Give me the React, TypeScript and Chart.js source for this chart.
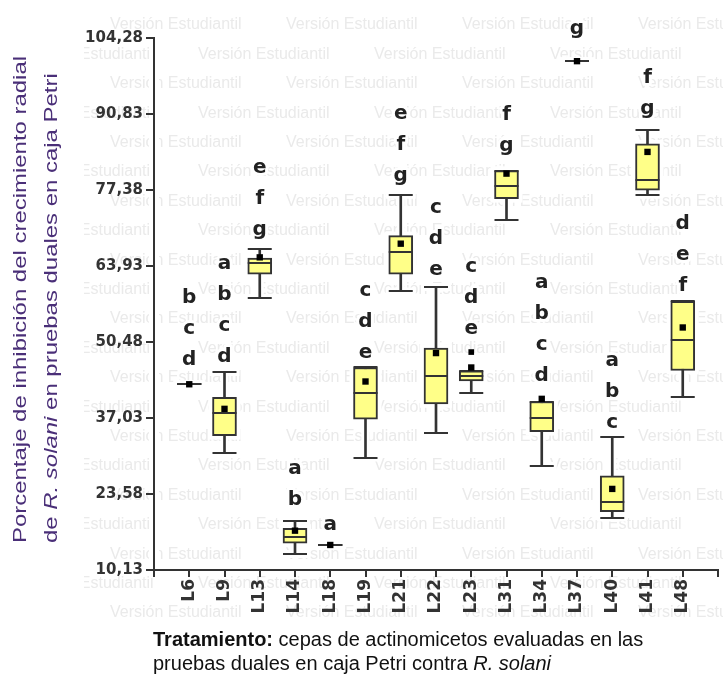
import React, { useEffect, useRef } from 'react';
import { Chart, registerables } from 'chart.js';

Chart.register(...registerables);

// ---------- data ----------
const categories = ['L6', 'L9', 'L13', 'L14', 'L18', 'L19', 'L21', 'L22', 'L23', 'L31', 'L34', 'L37', 'L40', 'L41', 'L48'];
const whiskerLow = [43.0, 30.8, 58.26, 12.96, 14.56, 30.03, 59.43, 34.35, 41.43, 72.13, 28.55, 100.18, 19.4, 76.56, 40.83];
const quartile1 = [43.0, 33.92, 62.5, 14.86, 14.56, 36.83, 62.5, 39.54, 43.61, 75.85, 34.63, 100.18, 20.46, 77.33, 45.44];
const medians = [43.0, 38.0, 64.46, 15.92, 14.56, 41.43, 66.41, 44.5, 44.5, 78.03, 37.11, 100.18, 22.23, 79.22, 50.75];
const quartile3 = [43.0, 40.7, 65.35, 17.52, 14.56, 45.97, 69.3, 49.4, 45.38, 80.81, 39.95, 100.18, 26.78, 85.54, 57.66];
const whiskerHigh = [43.0, 45.15, 66.94, 18.87, 14.56, 45.97, 76.56, 60.21, 45.38, 80.81, 39.95, 100.18, 33.74, 87.96, 57.66];
const means = [43.0, 38.65, 65.46, 17.09, 14.56, 43.49, 67.88, 48.52, 45.97, 80.28, 40.42, 100.18, 24.48, 84.12, 53.05];
const outlierCategories = ['L23'];
const outlierValues = [48.7];
const letterGroups = ['bcd', 'abcd', 'efg', 'ab', 'a', 'cde', 'efg', 'cde', 'cde', 'fg', 'abcd', 'g', 'abc', 'fg', 'def'];
const letterBaseValues = [47.4, 47.9, 70.3, 22.6, 18.1, 48.6, 79.9, 63.3, 52.8, 85.2, 44.5, 105.9, 36.2, 91.8, 60.4];
const yTickValues = [10.13, 23.58, 37.03, 50.48, 63.93, 77.38, 90.83, 104.28];
const yTitleLine1 = 'Porcentaje de inhibición del crecimiento radial';
const yTitleLine2 = [['de ', 'normal'], ['R. solani', 'italic'], [' en pruebas duales en caja Petri', 'normal']];
const xTitleLine1 = [['Tratamiento:', 'bold'], [' cepas de actinomicetos evaluadas en las', 'normal']];
const xTitleLine2 = [['pruebas duales en caja Petri contra ', 'normal'], ['R. solani', 'italic']];
const watermarkText = 'Versión Estudiantil';

// ---------- styles ----------
const W = 723;
const H = 685;
const BOX_W = 24;
const INK = '#333333';
const BOX_FILL = '#ffff88';
const TITLE_COLOR = '#4a2f78';

const xIndex = (cat: string) => categories.indexOf(cat) + 1;

const backgroundPlugin = {
  id: 'bgWatermark',
  beforeDraw(chart: any) {
    const ctx = chart.ctx as CanvasRenderingContext2D;
    const area = chart.chartArea;
    ctx.save();
    ctx.fillStyle = '#ffffff';
    ctx.fillRect(0, 0, W, H);
    ctx.beginPath();
    ctx.rect(84, 8, W - 84, 615);
    ctx.clip();
    ctx.font = '16px "Liberation Sans"';
    ctx.fillStyle = '#eaeaea';
    ctx.textBaseline = 'middle';
    ctx.textAlign = 'left';
    for (let r = 0; r < 21; r++) {
      const y = 25 + r * 29.4;
      const start = r % 2 === 0 ? 110 : 198;
      for (let x = start - 176 * 2; x < W; x += 176) ctx.fillText(watermarkText, x, y);
    }
    ctx.restore();
    // white halo along the axes
    ctx.save();
    ctx.strokeStyle = '#ffffff';
    ctx.lineWidth = 10;
    ctx.beginPath();
    ctx.moveTo(area.left, area.top - 4);
    ctx.lineTo(area.left, area.bottom + 8);
    ctx.moveTo(area.left - 10, area.bottom);
    ctx.lineTo(area.right + 3, area.bottom);
    ctx.stroke();
    ctx.restore();
  },
};

const boxPlugin = {
  id: 'boxExtras',
  beforeDatasetsDraw(chart: any) {
    const ctx = chart.ctx as CanvasRenderingContext2D;
    const xs = chart.scales.x;
    const ys = chart.scales.y;
    ctx.save();
    ctx.strokeStyle = '#ffffff';
    ctx.fillStyle = '#ffffff';
    ctx.lineWidth = 8;
    categories.forEach((c, i) => {
      const x = xs.getPixelForValue(i + 1);
      const lo = ys.getPixelForValue(whiskerLow[i]);
      const hi = ys.getPixelForValue(whiskerHigh[i]);
      ctx.beginPath();
      ctx.moveTo(x, lo);
      ctx.lineTo(x, hi);
      ctx.moveTo(x - BOX_W / 2 - 3, lo);
      ctx.lineTo(x + BOX_W / 2 + 3, lo);
      ctx.moveTo(x - BOX_W / 2 - 3, hi);
      ctx.lineTo(x + BOX_W / 2 + 3, hi);
      ctx.stroke();
      const t = ys.getPixelForValue(quartile3[i]);
      const b = ys.getPixelForValue(quartile1[i]);
      ctx.fillRect(x - BOX_W / 2 - 4, t - 4, BOX_W + 8, b - t + 8);
    });
    ctx.restore();
  },
  afterDatasetDraw(chart: any, args: any) {
    if (args.index !== 1) return;
    const ctx = chart.ctx as CanvasRenderingContext2D;
    const xs = chart.scales.x;
    const ys = chart.scales.y;
    ctx.save();
    ctx.strokeStyle = INK;
    ctx.lineWidth = 2;
    categories.forEach((c, i) => {
      const x = xs.getPixelForValue(i + 1);
      const vals = [whiskerLow[i], whiskerHigh[i], medians[i]];
      vals.forEach((v) => {
        const y = Math.round(ys.getPixelForValue(v));
        ctx.beginPath();
        ctx.moveTo(x - BOX_W / 2, y);
        ctx.lineTo(x + BOX_W / 2, y);
        ctx.stroke();
      });
    });
    ctx.restore();
  },
  afterDraw(chart: any) {
    const ctx = chart.ctx as CanvasRenderingContext2D;
    const xs = chart.scales.x;
    const ys = chart.scales.y;
    // significance letters
    ctx.save();
    ctx.font = 'bold 20px "DejaVu Sans"';
    ctx.textAlign = 'center';
    ctx.textBaseline = 'middle';
    ctx.lineJoin = 'round';
    categories.forEach((c, i) => {
      const x = xs.getPixelForValue(i + 1);
      const base = ys.getPixelForValue(letterBaseValues[i]);
      const chars = letterGroups[i].split('');
      chars.forEach((ch, j) => {
        const y = base - (chars.length - 1 - j) * 31;
        ctx.strokeStyle = '#ffffff';
        ctx.lineWidth = 6;
        ctx.strokeText(ch, x, y);
        ctx.fillStyle = '#222222';
        ctx.fillText(ch, x, y);
      });
    });
    ctx.restore();

    const drawSegments = (segs: string[][], size: number, family: string, color: string) => {
      let x = 0;
      segs.forEach(([txt, style]) => {
        const f = style === 'bold' ? `bold ${size}px ${family}` : style === 'italic' ? `italic ${size}px ${family}` : `${size}px ${family}`;
        ctx.font = f;
        ctx.fillStyle = color;
        ctx.fillText(txt, x, 0);
        x += ctx.measureText(txt).width;
      });
    };
    // y-axis title (two rotated lines)
    ctx.save();
    ctx.textAlign = 'left';
    ctx.textBaseline = 'alphabetic';
    ctx.translate(26, 543);
    ctx.rotate(-Math.PI / 2);
    ctx.scale(1.33, 1);
    drawSegments([[yTitleLine1, 'normal']], 18, '"Liberation Sans"', TITLE_COLOR);
    ctx.restore();
    ctx.save();
    ctx.textAlign = 'left';
    ctx.textBaseline = 'alphabetic';
    ctx.translate(57, 543);
    ctx.rotate(-Math.PI / 2);
    ctx.scale(1.33, 1);
    drawSegments(yTitleLine2, 18, '"Liberation Sans"', TITLE_COLOR);
    ctx.restore();

    // x-axis title (two lines below)
    ctx.save();
    ctx.textAlign = 'left';
    ctx.textBaseline = 'alphabetic';
    ctx.translate(153, 646);
    drawSegments(xTitleLine1, 20, '"Liberation Sans"', '#111111');
    ctx.restore();
    ctx.save();
    ctx.textAlign = 'left';
    ctx.textBaseline = 'alphabetic';
    ctx.translate(153, 670);
    drawSegments(xTitleLine2, 20, '"Liberation Sans"', '#111111');
    ctx.restore();
  },
};

export default function App() {
  const ref = useRef<HTMLCanvasElement>(null);
  useEffect(() => {
    if (!ref.current) return;
    const xTicks = Array.from({ length: categories.length + 2 }, (_, k) => k);
    const chart = new Chart(ref.current, {
      type: 'bar',
      data: {
        datasets: [
          {
            type: 'bar',
            label: 'whiskers',
            data: categories.map((c, i) => ({ x: i + 1, y: [whiskerLow[i], whiskerHigh[i]] })) as any,
            backgroundColor: INK,
            borderWidth: 0,
            barThickness: 2,
            grouped: false,
            order: 3,
          } as any,
          {
            type: 'bar',
            label: 'boxes',
            data: categories.map((c, i) => ({ x: i + 1, y: [quartile1[i], quartile3[i]] })) as any,
            backgroundColor: BOX_FILL,
            borderColor: INK,
            borderWidth: 2,
            borderSkipped: false,
            barThickness: BOX_W,
            grouped: false,
            order: 2,
          } as any,
          {
            type: 'scatter',
            label: 'means',
            data: categories.map((c, i) => ({ x: i + 1, y: means[i] })),
            pointStyle: 'rect',
            pointRadius: 4.5,
            backgroundColor: '#000000',
            borderWidth: 0,
            order: 1,
          } as any,
          {
            type: 'scatter',
            label: 'outliers',
            data: outlierCategories.map((c, i) => ({ x: xIndex(c), y: outlierValues[i] })),
            pointStyle: 'rect',
            pointRadius: 4,
            backgroundColor: '#000000',
            borderWidth: 0,
            order: 0,
          } as any,
        ],
      },
      options: {
        responsive: false,
        devicePixelRatio: 1,
        animation: false,
        layout: { padding: { left: 84, right: 5, top: 38, bottom: 0 } },
        plugins: { legend: { display: false }, tooltip: { enabled: false }, title: { display: false } },
        scales: {
          x: {
            type: 'linear',
            min: 0,
            max: categories.length + 1,
            offset: false,
            afterBuildTicks: (scale: any) => {
              scale.ticks = xTicks.map((v) => ({ value: v }));
            },
            afterFit: (scale: any) => {
              scale.height = 115;
              scale.paddingLeft = 0;
              scale.paddingRight = 0;
            },
            ticks: {
              autoSkip: false,
              maxRotation: 90,
              minRotation: 90,
              padding: 2,
              color: INK,
              font: { family: 'DejaVu Sans', weight: 'bold', size: 17 },
              callback: (v: any) => categories[Number(v) - 1] ?? '',
            },
            grid: { display: true, offset: false, drawOnChartArea: false, drawTicks: true, tickLength: 7, color: INK, lineWidth: 2 },
            border: { display: true, color: INK, width: 2 },
          },
          y: {
            type: 'linear',
            min: yTickValues[0],
            max: yTickValues[yTickValues.length - 1],
            afterBuildTicks: (scale: any) => {
              scale.ticks = yTickValues.map((v) => ({ value: v }));
            },
            afterFit: (scale: any) => {
              scale.width = 70;
              scale.paddingTop = 0;
              scale.paddingBottom = 0;
            },
            ticks: {
              padding: 3,
              color: INK,
              font: { family: 'DejaVu Sans', weight: 'bold', size: 15 },
              callback: (v: any) => Number(v).toFixed(2).replace('.', ','),
            },
            grid: { display: true, drawOnChartArea: false, drawTicks: true, tickLength: 8, color: INK, lineWidth: 2 },
            border: { display: true, color: INK, width: 2 },
          },
        },
      } as any,
      plugins: [backgroundPlugin, boxPlugin],
    });
    return () => chart.destroy();
  }, []);
  return (
    <div style={{ position: 'fixed', left: 0, top: 0, width: W, height: H, background: '#ffffff' }}>
      <canvas ref={ref} width={W} height={H} style={{ width: W, height: H, display: 'block' }} />
    </div>
  );
}
